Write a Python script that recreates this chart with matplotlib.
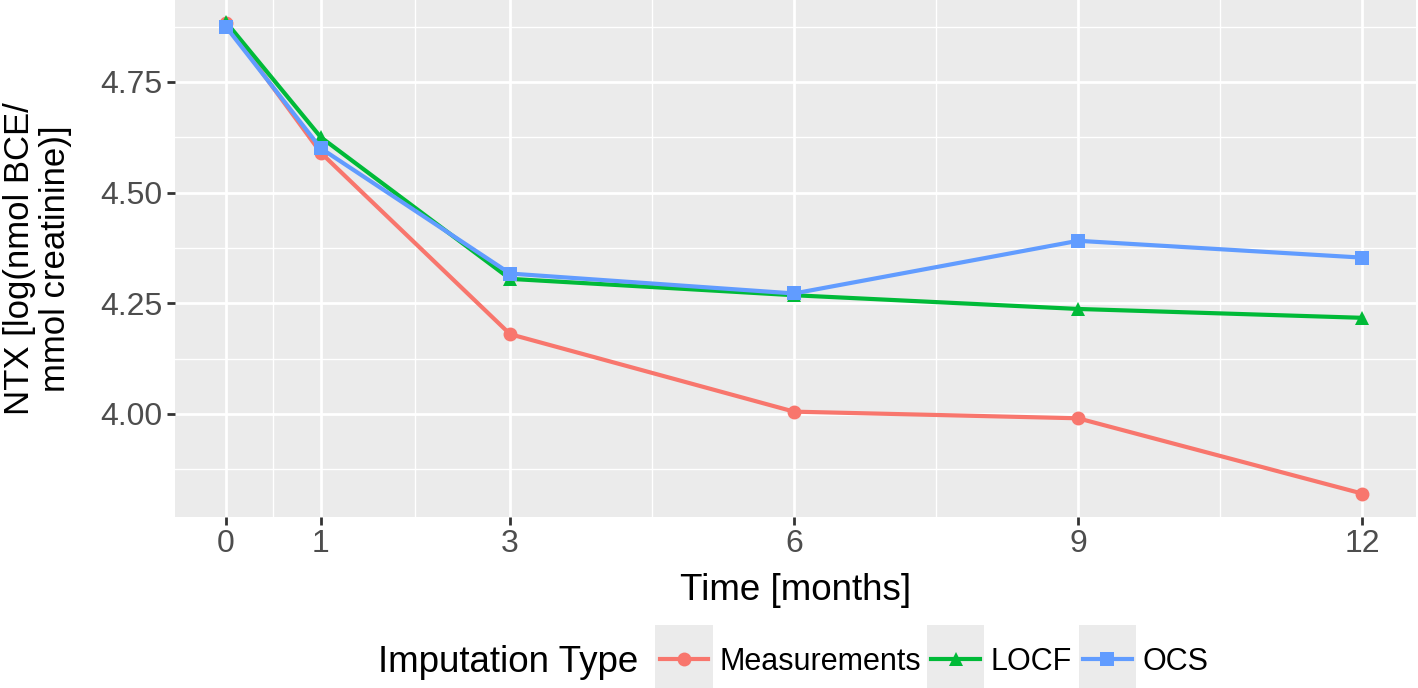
import numpy as np
import matplotlib.pyplot as plt
from matplotlib.legend_handler import HandlerLine2D
from matplotlib.patches import Rectangle
from matplotlib.lines import Line2D

plt.rcParams['font.family'] = ['Liberation Sans', 'DejaVu Sans']

months = [0, 1, 3, 6, 9, 12]
measurements = [4.882, 4.590, 4.180, 4.005, 3.990, 3.820]
locf = [4.885, 4.625, 4.305, 4.268, 4.237, 4.217]
ocs = [4.874, 4.600, 4.317, 4.272, 4.391, 4.353]

series_names = ['Measurements', 'LOCF', 'OCS']
colors = ['#F8766D', '#00BA38', '#619CFF']
markers = ['o', '^', 's']

y_ticks = [4.00, 4.25, 4.50, 4.75]


class KeyHandler(HandlerLine2D):
    # ggplot-style legend key: grey box behind line+marker
    def create_artists(self, legend, orig_handle, xdescent, ydescent,
                       width, height, fontsize, trans):
        padx = 3
        bg = Rectangle((-xdescent - padx, -ydescent - 15),
                       width + 2 * padx, height + 32,
                       facecolor='#EBEBEB', edgecolor='none', transform=trans)
        arts = super().create_artists(legend, orig_handle, xdescent, ydescent,
                                      width, height, fontsize, trans)
        return [bg] + arts


fig = plt.figure(figsize=(14.18, 6.88), dpi=100)
ax = fig.add_axes([175 / 1418, 1 - 517 / 688, 1241 / 1418, 517 / 688])

ax.set_facecolor('#EBEBEB')
for s in ax.spines.values():
    s.set_visible(False)

handles = []
for vals, name, c, m in zip([measurements, locf, ocs], series_names, colors, markers):
    ax.plot(months, vals, color=c, lw=3, marker=m, ms=10, mew=0, zorder=3)
    handles.append(Line2D([], [], color=c, lw=3, marker=m, ms=10, mew=0))

ax.set_xlim(-0.54, 12.57)
ax.set_ylim(3.767, 4.935)
ax.set_xticks(months)
ax.set_yticks(y_ticks)
ax.set_yticklabels(['%.2f' % v for v in y_ticks])
ax.set_xticks([0.5, 2, 4.5, 7.5, 10.5], minor=True)
ax.set_yticks([3.875, 4.125, 4.375, 4.625, 4.875], minor=True)
ax.grid(which='major', color='white', lw=2.0, zorder=0)
ax.grid(which='minor', color='white', lw=1.0, zorder=0)
ax.set_axisbelow(True)
ax.tick_params(which='major', length=6, width=2, color='#333333',
               labelsize=23, labelcolor='#4D4D4D', pad=3)
ax.tick_params(which='minor', length=0)

ax.set_xlabel('Time [months]', fontsize=26.5, labelpad=10)
ax.set_ylabel('NTX [log(nmol BCE/\nmmol creatinine)]', fontsize=25,
              labelpad=20, linespacing=1.12)

fig.text(378 / 1418, 1 - 662 / 688, 'Imputation Type', fontsize=26.5,
         va='center', ha='left')
fig.legend(handles, series_names, loc='center left',
           bbox_to_anchor=(632 / 1418, 1 - 662 / 688), ncol=3, frameon=False,
           fontsize=22, handlelength=1.6, handletextpad=0.35, columnspacing=0.35,
           handler_map={Line2D: KeyHandler()})

fig.savefig('out.png', dpi=100)
